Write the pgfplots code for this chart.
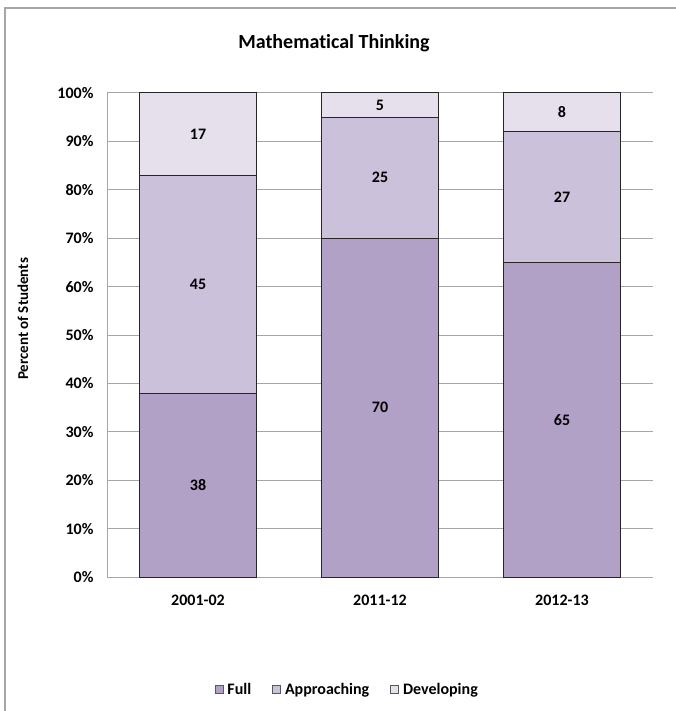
\documentclass[border=0pt]{standalone}
\usepackage{pgfplots}
\pgfplotsset{compat=1.18}
\usepackage{fontspec}
\setmainfont{Carlito}[Ligatures=NoCommon]
\definecolor{cfull}{HTML}{B2A1C7}
\definecolor{cappr}{HTML}{CCC1DA}
\definecolor{cdev}{HTML}{E5E0EC}
\definecolor{cgrid}{HTML}{A6A6A6}
\definecolor{cedge}{HTML}{262626}
\pgfplotsset{
  mylegend/.style={legend image code/.code={\draw[##1,draw=black!65,line width=0.8pt] (0pt,-4pt) rectangle (8pt,4pt);}},
  common/.style={at={(107pt,-577pt)}, anchor=south west, scale only axis,
    width=546pt, height=484pt, xmin=-0.5, xmax=2.5, ymin=0, ymax=100},
}
\begin{document}
\begin{tikzpicture}[x=1pt,y=1pt]
\path[use as bounding box] (0,0) rectangle (676,-711);
\draw[color=cgrid, line width=1.2pt] (5,-711) -- (5,-8) -- (676,-8);
\node[font=\bfseries\fontsize{20}{24}\selectfont] at (334,-43) {Mathematical Thinking};
\node[font=\bfseries\fontsize{15}{18}\selectfont, rotate=90] at (23,-319) {Percent of Students};
\begin{axis}[common,
  ybar stacked, bar width=0.643,
  xtick={0,1,2}, xticklabels={2001-02,2011-12,2012-13},
  ytick={0,10,20,30,40,50,60,70,80,90,100},
  yticklabels={0\%,10\%,20\%,30\%,40\%,50\%,60\%,70\%,80\%,90\%,100\%},
  ymajorgrids, grid style={cgrid, line width=1pt},
  axis x line*=bottom, axis y line*=left,
  axis line style={cgrid, line width=1pt, -},
  tick style={draw=none},
  /pgf/number format/assume math mode=true,
  tick label style={font=\bfseries\fontsize{16}{19}\selectfont},
  xticklabel style={yshift=-14pt},
  yticklabel style={xshift=-10pt},
  legend style={at={(rel axis cs:0.44,-0.233)}, anchor=center, draw=none, fill=none,
    legend columns=3, font=\bfseries\fontsize{16}{19}\selectfont,
    /tikz/every odd column/.append style={column sep=2pt},
    /tikz/every even column/.append style={column sep=19pt}},
]
\addplot[fill=cfull, draw=cedge, line width=1pt, mylegend] coordinates {(0,38) (1,70) (2,65)};
\addplot[fill=cappr, draw=cedge, line width=1pt, mylegend] coordinates {(0,45) (1,25) (2,27)};
\addplot[fill=cdev, draw=cedge, line width=1pt, mylegend] coordinates {(0,17) (1,5) (2,8)};
\legend{Full,Approaching,Developing}
\end{axis}
\begin{axis}[common, hide axis]
\addplot[draw=none, nodes near coords, point meta=explicit symbolic,
  every node near coord/.append style={anchor=center, font=\bfseries\fontsize{16}{19}\selectfont}]
  coordinates {(0,19) [38] (0,60.5) [45] (0,91.5) [17]
               (1,35) [70] (1,82.5) [25] (1,97.5) [5]
               (2,32.5) [65] (2,78.5) [27] (2,96) [8]};
\end{axis}
\end{tikzpicture}
\end{document}
